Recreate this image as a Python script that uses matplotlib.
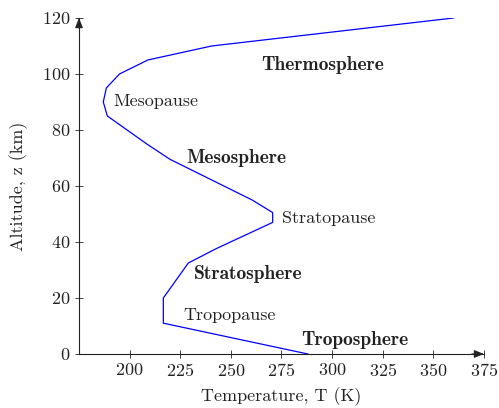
import matplotlib.pyplot as plt
import matplotlib

matplotlib.rcParams['font.family'] = 'cmr10'
matplotlib.rcParams['mathtext.fontset'] = 'cm'
matplotlib.rcParams['axes.formatter.use_mathtext'] = True
matplotlib.rcParams['font.size'] = 13

# temperature profile of the atmosphere
temperature = [288, 216.65, 216.65, 229, 243, 270.65, 270.65, 260.5, 220, 208.5,
               189, 187, 188.5, 195, 209, 240.5, 360]
altitude = [0, 11, 20, 32.5, 37.7, 47, 50.5, 55, 69.5, 75, 85, 90, 95, 100, 105, 110, 120]

x_ticks = [200, 225, 250, 275, 300, 325, 350, 375]
y_ticks = [0, 20, 40, 60, 80, 100, 120]

# (text, T, z, ha, bold)
layer_labels = [
    ('Thermosphere', 295.5, 103.3, 'center', True),
    ('Mesopause', 192, 90.3, 'left', False),
    ('Mesosphere', 252.5, 70, 'center', True),
    ('Stratopause', 275.5, 48.6, 'left', False),
    ('Stratosphere', 258.5, 28.6, 'center', True),
    ('Tropopause', 226.5, 13.9, 'left', False),
    ('Troposphere', 311, 5, 'center', True),
]

fig = plt.figure(figsize=(4.99, 4.08), dpi=100)
ax = fig.add_axes([0.1583, 0.1324, 0.8116, 0.8235])

ax.plot(temperature, altitude, color='#0000ff', linewidth=0.9)

for text, t, z, ha, bold in layer_labels:
    ax.text(t, z, text, ha=ha, va='center',
            fontsize=14 if bold else 13,
            fontfamily='cmb10' if bold else 'cmr10', color='#222222')

ax.set_xlim(175, 375)
ax.set_ylim(0, 120)
ax.set_xticks(x_ticks)
ax.set_yticks(y_ticks)
ax.tick_params(direction='inout', length=6, width=0.6, colors='#222222', labelsize=13)
ax.tick_params(axis='x', pad=3)
ax.tick_params(axis='y', pad=3)

for side in ['top', 'right']:
    ax.spines[side].set_visible(False)
for side in ['left', 'bottom']:
    ax.spines[side].set_linewidth(0.8)
    ax.spines[side].set_color('#222222')

# arrow tips on the axis lines
arrow = dict(arrowstyle='-|>,head_length=0.45,head_width=0.18', color='#222222', lw=0.8,
             shrinkA=0, shrinkB=0)
ax.annotate('', xy=(1, 0), xytext=(0.97, 0), xycoords='axes fraction',
            arrowprops=arrow, annotation_clip=False)
ax.annotate('', xy=(0, 1), xytext=(0, 0.97), xycoords='axes fraction',
            arrowprops=arrow, annotation_clip=False)

ax.set_xlabel('Temperature, T (K)', labelpad=6, color='#222222')
ax.set_ylabel('Altitude, z (km)', labelpad=10, color='#222222')

fig.savefig('out.png', dpi=100)
